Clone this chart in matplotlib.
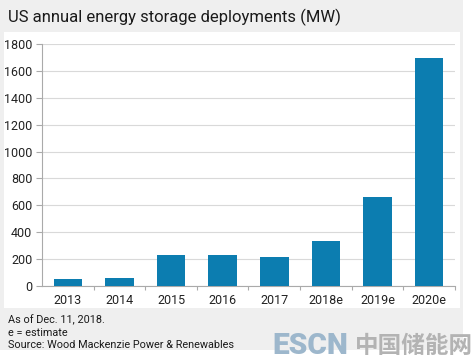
import matplotlib
matplotlib.use("Agg")
import matplotlib.pyplot as plt
from matplotlib.patches import Rectangle

categories = ["2013", "2014", "2015", "2016", "2017", "2018e", "2019e", "2020e"]
values = [50, 63, 228, 227, 213, 338, 662, 1697]
yticks = [0, 200, 400, 600, 800, 1000, 1200, 1400, 1600, 1800]
title = "US annual energy storage deployments (MW)"
notes = ["As of Dec. 11, 2018.", "e = estimate", "Source: Wood Mackenzie Power & Renewables"]

W, H = 477, 363
fig = plt.figure(figsize=(W / 100, H / 100), dpi=100)
fig.patch.set_facecolor("white")

def fx(px):
    return px / W

def fy(py):
    return 1 - py / H

FONT = "Roboto"

# grey outer panel
fig.patches.append(Rectangle((0, fy(350)), fx(463), 350 / H, transform=fig.transFigure,
                             facecolor="#efefef", edgecolor="none", zorder=-10))
# white inner panel
fig.patches.append(Rectangle((fx(4), fy(308)), fx(456), 276 / H, transform=fig.transFigure,
                             facecolor="white", edgecolor="none", zorder=-9))

fig.text(fx(8), fy(17), title, fontsize=12, family=FONT, color="#1a1a1a", va="center", ha="left")

ax = fig.add_axes([fx(42), fy(286), fx(455 - 42), (286 - 44) / H])
ax.set_facecolor("none")
x = list(range(len(categories)))
ax.bar(x, values, width=0.55, color="#0c7db0", zorder=3)
ax.set_xlim(-0.5, len(categories) - 0.5)
ax.set_ylim(0, 1800)
ax.set_yticks(yticks)
ax.set_yticklabels([str(v) for v in yticks])
ax.set_xticks(x)
ax.set_xticklabels(categories)
ax.set_xticks([i + 0.5 for i in range(len(categories))], minor=True)
ax.tick_params(axis="x", which="major", length=0, pad=6, labelsize=9, labelcolor="#222")
ax.tick_params(axis="x", which="minor", length=3, color="#aaaaaa", width=0.8)
ax.tick_params(axis="y", length=4, color="#aaaaaa", width=0.8, pad=3, labelsize=9, labelcolor="#222")
ax.grid(axis="y", color="#d9d9d9", linewidth=0.8, zorder=0)
for s in ["top", "right"]:
    ax.spines[s].set_visible(False)
for s in ["left", "bottom"]:
    ax.spines[s].set_color("#aaaaaa")
    ax.spines[s].set_linewidth(0.8)
for lab in ax.get_xticklabels() + ax.get_yticklabels():
    lab.set_family(FONT)

for i, n in enumerate(notes):
    fig.text(fx(8), fy(320 + i * 12.5), n, fontsize=7.8, family=FONT, color="#1a1a1a",
             va="center", ha="left")

fig.text(fx(272), fy(346), "ESCN", fontsize=21.5, fontweight="heavy", family="Roboto",
         color="#9db7cc", va="center", ha="left")
fig.text(fx(355), fy(346), "中国储能网", fontsize=17, fontweight="bold", family="Noto Sans CJK SC",
         color="#b3b3b3", va="center", ha="left")

fig.savefig("out.png", dpi=100, facecolor="white")
